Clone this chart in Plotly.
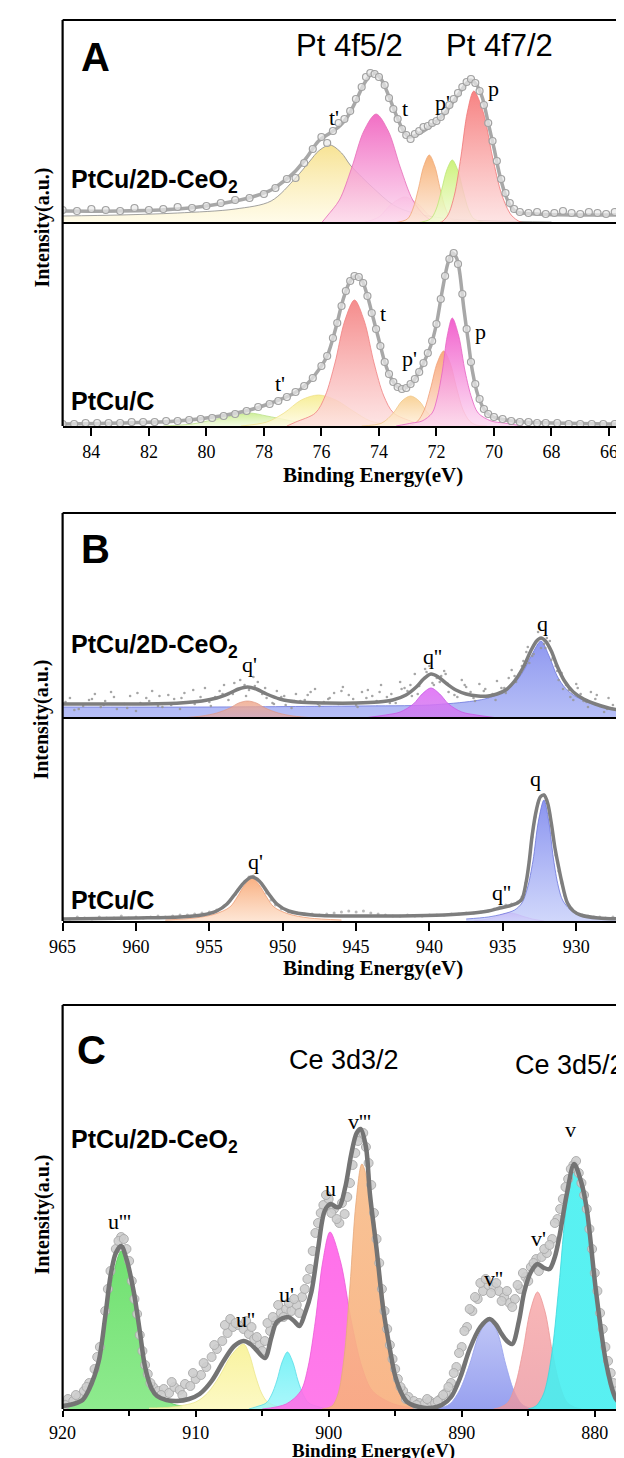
import plotly.graph_objects as go

W, H = 624, 1458
X0 = 42.5  # left frame edge in px


def px(x):
    return x / W


def py(y):
    return 1 - y / H


# ======================= DATA =======================
# ---------- Panel A : Pt 4f ----------
a_ticks = [84, 82, 80, 78, 76, 74, 72, 70, 68, 66]

# top: PtCu/2D-CeO2
a1_env_e = [85, 83, 81, 80, 79, 78.3, 77.75, 77.3, 76.9, 76.5, 76.1, 75.7, 75.4, 75.1, 74.8, 74.5, 74.2, 73.95,
            73.7, 73.4, 73.15, 72.95, 72.7, 72.45, 72.2, 71.95, 71.7, 71.45, 71.2, 70.95, 70.8, 70.6, 70.4, 70.2,
            70.0, 69.8, 69.6, 69.4, 69.2, 68.5, 67, 65.2]
a1_env_h = [12, 12, 14, 17, 22, 27, 33, 42, 52, 66, 82, 90, 96, 106, 122, 140, 150, 145, 130, 108, 92, 86, 88,
            92, 97, 103, 110, 120, 130, 140, 143, 138, 125, 100, 75, 48, 28, 16, 11, 9, 8, 8]
a1_pts_e = [85, 84.5, 84, 83.5, 83, 82.5, 82, 81.5, 81, 80.5, 80, 79.5, 79, 78.5, 78, 77.6, 77.2, 76.9, 76.6,
            76.3, 76.0, 75.8, 75.6, 75.4, 75.2, 75.0, 74.8, 74.6, 74.45, 74.3, 74.15, 74.0, 73.8, 73.65, 73.5,
            73.35, 73.2, 73.05, 72.9, 72.75, 72.6, 72.45, 72.3, 72.15, 72.0, 71.85, 71.7, 71.55, 71.4, 71.25,
            71.1, 70.95, 70.8, 70.65, 70.5, 70.35, 70.2, 70.05, 69.9, 69.75, 69.6, 69.45, 69.3, 69.1, 68.8, 68.5,
            68.2, 67.9, 67.6, 67.3, 67.0, 66.7, 66.4, 66.1, 65.8, 65.5]
a1_pts_h = [13, 12, 14, 13, 12, 15, 13, 14, 16, 15, 17, 20, 23, 25, 29, 35, 44, 45, 60, 74, 86, 80, 92, 100,
            104, 112, 124, 136, 146, 150, 149, 146, 138, 125, 114, 104, 94, 88, 84, 89, 92, 96, 97, 100, 102,
            106, 112, 118, 124, 130, 136, 141, 144, 140, 132, 118, 100, 82, 62, 44, 30, 20, 14, 11, 10, 11, 9,
            10, 12, 10, 9, 11, 10, 9, 11, 10]
a1_tp_e = [85, 83, 81, 79, 77.75, 76.9, 76.4, 76.1, 75.7, 75.3, 75.0, 74.6, 74.2, 73.5, 72.8, 71.5, 70.0, 68.0]
a1_tp_h = [7, 8, 10, 14, 22, 45, 62, 72, 78, 70, 58, 46, 35, 18, 10, 4, 2, 1]
a1_t_e = [76.0, 75.8, 75.375, 74.95, 74.525, 74.1, 73.675, 73.25, 72.825, 72.4, 72.0]
a1_t_h = [0, 7, 23, 55, 92, 109, 92, 55, 23, 7, 0]
a1_t2_e = [74.6, 74.0, 73.6, 73.1, 72.6, 72.2, 71.6]
a1_t2_h = [0, 6, 18, 26, 18, 6, 0]
a1_pp_e = [73.5, 73.01, 72.82, 72.63, 72.44, 72.25, 72.06, 71.87, 71.68, 71.49, 71.0]
a1_pp_h = [0, 4, 14, 34, 57, 68, 57, 34, 14, 4, 0]
a1_g_e = [72.7, 72.21, 72.02, 71.83, 71.64, 71.45, 71.26, 71.07, 70.88, 70.69, 70.2]
a1_g_h = [0, 4, 13, 32, 53, 63, 53, 32, 13, 4, 0]
a1_p_e = [72.1, 71.825, 71.6, 71.375, 71.15, 70.925, 70.7, 70.375, 70.05, 69.725, 69.4, 69.075, 68.7]
a1_p_h = [0, 1, 8, 28, 66, 111, 132, 111, 66, 28, 8, 1, 0]

# bottom: PtCu/C
a2_env_e = [85, 83, 81, 79.5, 78.5, 77.75, 77.0, 76.5, 76.1, 75.8, 75.5, 75.25, 75.0, 74.8, 74.6, 74.4, 74.2,
            74.0, 73.8, 73.6, 73.35, 73.1, 72.8, 72.5, 72.2, 72.0, 71.8, 71.6, 71.45, 71.3, 71.2, 71.05, 70.9,
            70.75, 70.55, 70.3, 70.1, 69.6, 69.0, 68.0, 66.0, 65.2]
a2_env_h = [2, 3, 5, 10, 16, 23, 32, 42, 56, 70, 98, 126, 145, 150, 146, 130, 108, 86, 64, 49, 39, 38, 45, 60,
            80, 102, 135, 163, 173, 168, 155, 118, 86, 55, 30, 15, 10, 6, 4, 3, 2, 2]
a2_pts_e = [85, 84.6, 84.2, 83.8, 83.4, 83.0, 82.6, 82.2, 81.8, 81.4, 81.0, 80.6, 80.2, 79.8, 79.4, 79.0, 78.6,
            78.2, 77.8, 77.5, 77.2, 76.9, 76.6, 76.3, 76.0, 75.8, 75.6, 75.45, 75.3, 75.15, 75.0, 74.85, 74.7,
            74.55, 74.4, 74.25, 74.1, 73.95, 73.8, 73.65, 73.5, 73.35, 73.2, 73.05, 72.9, 72.75, 72.6, 72.45,
            72.3, 72.15, 72.0, 71.85, 71.7, 71.55, 71.4, 71.25, 71.1, 70.95, 70.8, 70.65, 70.5, 70.35, 70.2,
            70.0, 69.7, 69.4, 69.1, 68.8, 68.5, 68.2, 67.8, 67.4, 67.0, 66.6, 66.2, 65.8, 65.4]
a2_pts_h = [2, 2, 3, 3, 3, 3, 4, 4, 4, 5, 5, 6, 7, 8, 10, 12, 15, 19, 22, 25, 29, 34, 40, 48, 60, 70, 88, 103,
            120, 135, 145, 150, 149, 143, 130, 113, 97, 80, 64, 52, 44, 39, 37, 38, 42, 47, 54, 63, 73, 85, 102,
            127, 150, 167, 173, 162, 132, 97, 64, 42, 27, 17, 12, 9, 7, 5, 4, 4, 3, 3, 3, 2, 2, 2, 2, 2, 2]
a2_g_e = [81.5, 80.5, 79.8, 79.1, 78.5, 77.9, 77.2, 76.5, 75.5]
a2_g_h = [0, 2, 6, 10, 13, 10, 6, 2, 0]
a2_y_e = [78.8, 77.9, 77.3, 76.7, 76.1, 75.5, 74.9, 74.3, 73.4]
a2_y_h = [0, 4, 13, 26, 31, 26, 15, 5, 0]
a2_t_e = [77.2, 76.89, 76.21, 75.87, 75.53, 75.19, 74.85, 74.51, 74.17, 73.83, 73.49, 72.81, 72.4]
a2_t_h = [0, 4, 13, 30, 63, 105, 126, 105, 63, 30, 13, 4, 0]
a2_pp_e = [74.6, 73.9, 73.5, 73.2, 72.9, 72.6, 72.3, 71.9, 71.2]
a2_pp_h = [0, 3, 13, 25, 30, 25, 13, 3, 0]
a2_o_e = [73.25, 72.875, 72.65, 72.425, 72.2, 71.975, 71.75, 71.525, 71.3, 71.075, 70.85, 70.625, 70.25]
a2_o_h = [0, 1, 5, 16, 38, 63, 75, 63, 38, 16, 5, 1, 0]
a2_p_e = [73.4, 72.85, 72.5, 72.15, 71.975, 71.8, 71.625, 71.45, 71.225, 71.0, 70.775, 70.55, 70.1, 69.65, 69.0]
a2_p_h = [0, 3, 5, 13, 28, 54, 90, 108, 90, 54, 28, 13, 5, 3, 0]

# ---------- Panel B : Cu 2p ----------
b_ticks = [965, 960, 955, 950, 945, 940, 935, 930]

b1_env_e = [965, 960, 957, 955.5, 954.5, 953.6, 953.0, 952.4, 951.8, 951.1, 950.2, 949.0, 947, 945, 943.5,
            942.5, 941.6, 940.9, 940.4, 939.9, 939.4, 938.8, 938.2, 937.5, 936.7, 936.0, 935.4, 934.8, 934.2,
            933.6, 933.1, 932.7, 932.4, 932.1, 931.7, 931.3, 930.8, 930.2, 929.5, 928.7, 927.8, 926.2]
b1_env_h = [14, 14, 15, 17, 20, 25, 29, 31, 29, 24, 19, 16, 15, 15, 16, 18, 23, 31, 39, 44, 41, 34, 28, 24, 22,
            22, 24, 28, 37, 51, 67, 77, 80, 77, 67, 52, 37, 26, 19, 14, 10, 6]
b1_pts_e = [964.5, 963.6, 962.8, 962.1, 961.3, 960.4, 959.7, 958.9, 958.2, 957.4, 956.7, 956.0, 955.3, 954.6,
            954.0, 953.4, 952.9, 952.3, 951.7, 951.1, 950.4, 949.8, 949.1, 948.5, 947.8, 947.2, 946.5, 945.9,
            945.2, 944.6, 943.9, 943.3, 942.6, 942.0, 941.5, 941.0, 940.5, 940.0, 939.5, 939.0, 938.4, 937.8,
            937.2, 936.6, 936.0, 935.4, 934.9, 934.4, 933.9, 933.4, 933.0, 932.6, 932.2, 931.8, 931.4, 931.0,
            930.5, 930.0, 929.5, 929.0, 928.4, 927.8, 927.2, 926.6,
            964.2, 963.2, 962.4, 961.7, 960.8, 960.0, 959.3, 958.5, 957.8, 957.0, 956.3, 955.6, 954.9, 954.3,
            953.7, 953.1, 952.6, 952.0, 951.4, 950.7, 950.1, 949.4, 948.8, 948.1, 947.5, 946.8, 946.2, 945.5,
            944.9, 944.2, 943.6, 942.9, 942.3, 941.7, 941.2, 940.7, 940.2, 939.7, 939.2, 938.7, 938.1, 937.5,
            936.9, 936.3, 935.7, 935.1, 934.6, 934.1, 933.6, 933.2, 932.8, 932.4, 932.0, 931.6, 931.2, 930.7,
            930.2, 929.7, 929.2, 928.7, 928.1, 927.5, 926.9,
            964.8, 963.9, 963.0, 962.2, 961.5, 960.6, 959.9, 959.1, 958.4, 957.6, 956.9, 956.1, 955.0, 954.1,
            953.3, 952.5, 951.9, 951.2, 950.6, 949.9, 949.2, 948.3, 947.6, 946.9, 946.0, 945.0, 944.3, 943.4,
            942.7, 941.9, 941.3, 940.8, 940.3, 939.8, 939.3, 938.9, 938.3, 937.6, 937.0, 936.2, 935.5, 934.8,
            934.2, 933.7, 933.3, 932.9, 932.5, 932.1, 931.7, 931.3, 930.9, 930.4, 929.9, 929.3, 928.6, 927.9,
            927.0, 926.4]
b1_pts_h = [20, 12, 24, 17, 9, 22, 15, 27, 11, 19, 25, 14, 30, 21, 33, 24, 38, 28, 36, 20, 27, 13, 24, 18, 29,
            16, 25, 31, 19, 26, 22, 33, 24, 36, 27, 44, 38, 52, 40, 47, 30, 38, 26, 34, 21, 37, 30, 48, 44, 66,
            62, 86, 74, 77, 52, 45, 28, 34, 17, 26, 12, 20, 8, 15,
            8, 18, 11, 26, 14, 7, 20, 12, 23, 9, 16, 21, 12, 27, 18, 29, 33, 41, 24, 15, 21, 10, 17, 26, 12, 20,
            14, 23, 11, 28, 17, 21, 15, 30, 22, 32, 46, 33, 42, 26, 21, 31, 17, 27, 24, 30, 40, 36, 57, 55, 74,
            70, 80, 60, 38, 33, 18, 24, 11, 19, 6, 13, 4,
            16, 9, 19, 13, 21, 10, 25, 17, 22, 13, 20, 28, 16, 24, 35, 22, 32, 30, 14, 22, 17, 23, 14, 19, 27,
            13, 20, 26, 15, 29, 33, 24, 49, 35, 36, 44, 23, 33, 20, 29, 18, 25, 42, 52, 71, 64, 90, 70, 58, 47,
            29, 21, 30, 16, 23, 9, 11, 7]
b1_blue_e = [965, 955, 945, 940, 937, 936, 935, 934.2, 933.6, 933.0, 932.4, 931.85, 931.3, 930.75, 930.2, 929.1,
             928.0, 926.2]
b1_blue_h = [11, 11, 12, 13, 17, 20, 26, 35, 47, 64, 77, 62, 42, 30, 23, 15, 11, 7]
b1_o_e = [957, 955.5, 954.5, 953.6, 953.0, 952.4, 951.8, 951.2, 950.3, 949.3, 947.8]
b1_o_h = [0, 2, 5, 10, 15, 17, 15, 10, 5, 2, 0]
b1_m_e = [944.5, 943, 942, 941.1, 940.5, 939.9, 939.3, 938.7, 937.8, 936.8, 935.3]
b1_m_h = [0, 3, 6, 14, 24, 30, 24, 14, 6, 3, 0]

b2_env_e = [965, 960, 957, 955.5, 954.5, 953.8, 953.2, 952.6, 952.1, 951.6, 951.0, 950.4, 949.6, 948, 945, 942,
            939, 937, 936, 935.2, 934.6, 934.0, 933.7, 933.4, 933.2, 933.0, 932.7, 932.45, 932.2, 931.95, 931.7,
            931.45, 931.2, 931.0, 930.6, 930.2, 929.7, 928.5, 926.2]
b2_env_h = [2, 3, 4, 6, 10, 17, 28, 39, 44, 40, 28, 17, 10, 6, 5, 5, 6, 8, 10, 13, 15, 18, 22, 40, 60, 86, 112,
            124, 126, 118, 98, 73, 54, 40, 18, 10, 6, 3, 2]
b2_pts_e = [965, 964.5, 964, 963.5, 963, 962.5, 962, 961.5, 961, 960.5, 960, 959.5, 959, 958.5, 958, 957.5, 957,
            956.5, 956, 955.5, 955, 954.5, 954, 953.6, 953.2, 952.9, 952.6, 952.3, 952.0, 951.7, 951.4, 951.1,
            950.8, 950.5, 950.1, 949.6, 949, 948.5, 948, 947.5, 947, 946.5, 946, 945.5, 945, 944.5, 944, 943.5,
            943, 942.5, 942, 941.5, 941, 940.5, 940, 939.5, 939, 938.5, 938, 937.5, 937, 936.5, 936, 935.6,
            935.2, 934.8, 934.4, 934.0, 933.7, 933.45, 933.2, 933.0, 932.8, 932.6, 932.4, 932.2, 932.0, 931.8,
            931.6, 931.4, 931.2, 931.0, 930.8, 930.6, 930.3, 930.0, 929.6, 929.2, 928.8, 928.4, 928, 927.5, 927,
            926.5]
b2_pts_h = [3, 2, 4, 3, 2, 4, 3, 3, 5, 3, 4, 3, 4, 5, 4, 5, 6, 6, 7, 8, 9, 11, 15, 20, 27, 34, 39, 44, 45, 42,
            36, 28, 21, 16, 12, 9, 8, 7, 7, 6, 7, 8, 9, 10, 9, 10, 8, 7, 6, 5, 5, 6, 5, 5, 6, 6, 6, 7, 7, 8, 8, 9,
            10, 12, 14, 16, 17, 19, 24, 38, 60, 84, 104, 118, 125, 126, 121, 106, 86, 66, 50, 38, 26, 18, 12, 8,
            6, 5, 4, 4, 3, 4, 3, 3]
b2_o_e = [958, 956, 954.6, 953.6, 953.1, 952.6, 952.1, 951.6, 951.1, 950.6, 949.6, 948.2, 946]
b2_o_h = [1, 3, 7, 14, 24, 36, 43, 36, 24, 14, 7, 3, 1]
b2_m_e = [937, 936, 935.3, 934.9, 934.5, 934.1, 933.7, 933.0, 932.2]
b2_m_h = [0, 2, 5, 7, 8, 7, 5, 2, 0]
b2_blue_e = [937.5, 936, 935, 934.2, 933.7, 933.325, 932.95, 932.575, 932.2, 931.875, 931.55, 931.225, 930.9,
             930.2, 929, 926.2]
b2_blue_h = [2, 4, 7, 11, 18, 33, 60, 100, 121, 100, 62, 35, 20, 9, 4, 1]

# ---------- Panel C : Ce 3d ----------
c_ticks = [920, 910, 900, 890, 880]
c_minor = [915, 905, 895, 885]

c_env_e = [920, 919.2, 918.5, 918.0, 917.3, 916.8, 916.4, 916.0, 915.6, 915.2, 914.65, 914.2, 913.8, 913.3,
           912.9, 912.2, 911.4, 910.5, 909.7, 908.8, 907.9, 907.1, 906.4, 905.9, 905.5, 904.8, 904.3, 903.9,
           903.05, 902.6, 902.2, 901.8, 901.3, 900.8, 900.3, 899.85, 899.45, 899.2, 898.75, 898.3, 897.9, 897.6,
           897.2, 896.9, 896.4, 895.9, 895.4, 895.0, 894.5, 894.1, 893.2, 892.3, 891.5, 890.8, 890.1, 889.4,
           888.6, 887.9, 887.4, 887.05, 886.6, 886.2, 885.7, 885.3, 884.8, 884.3, 883.8, 883.4, 883.0, 882.65,
           882.1, 881.55, 881.0, 880.6, 879.9, 879.1, 878.4, 877.7, 877.2]
c_env_h = [3, 5, 9, 20, 47, 92, 133, 156, 163, 150, 117, 78, 42, 20, 13, 9, 8, 10, 15, 28, 48, 63, 68, 65, 60,
           51, 72, 87, 92, 88, 83, 95, 117, 160, 198, 205, 202, 202, 222, 255, 276, 280, 262, 215, 160, 100, 60,
           33, 15, 7, 2, 1, 4, 12, 32, 60, 82, 90, 84, 76, 68, 65, 88, 117, 137, 145, 141, 140, 152, 173, 215,
           245, 226, 200, 117, 43, 10, 2, 1]
c_pts_e = [920.0, 919.6, 919.2, 918.8, 918.4, 918.0, 917.6, 917.2, 916.8, 916.4, 916.0, 915.6, 915.2, 914.8,
           914.4, 914.0, 913.6, 913.2, 912.8, 912.4, 912.0, 911.6, 911.2, 910.8, 910.4, 910.0, 909.6, 909.2,
           908.8, 908.4, 908.0, 907.6, 907.2, 906.8, 906.4, 906.0, 905.6, 905.2, 904.8, 904.4, 904.0, 903.6,
           903.2, 902.8, 902.4, 902.0, 901.6, 901.2, 900.8, 900.4, 900.0, 899.6, 899.2, 898.8, 898.4, 898.0,
           897.6, 897.2, 896.8, 896.4, 896.0, 895.6, 895.2, 894.8, 894.4, 894.0, 893.6, 893.2, 892.8, 892.4,
           892.0, 891.6, 891.2, 890.8, 890.4, 890.0, 889.6, 889.2, 888.8, 888.4, 888.0, 887.6, 887.2, 886.8,
           886.4, 886.0, 885.6, 885.2, 884.8, 884.4, 884.0, 883.6, 883.2, 882.8, 882.4, 882.0, 881.6, 881.2,
           880.8, 880.4, 880.0, 879.6, 879.2, 878.8, 878.4, 878.0, 877.6,
           919.8, 919.0, 918.2, 917.4, 916.6, 915.8, 915.4, 915.0, 914.6, 914.2, 913.8, 913.4, 912.6, 911.8,
           911.0, 910.2, 909.4, 908.6, 907.8, 907.4, 907.0, 906.2, 905.8, 905.4, 905.0, 904.6, 904.2, 903.8,
           903.4, 903.0, 902.6, 902.2, 901.8, 901.4, 901.0, 900.6, 900.2, 899.8, 899.4, 899.0, 898.6, 898.2,
           897.8, 897.4, 897.0, 896.6, 896.2, 895.8, 895.4, 895.0, 894.6, 894.2, 893.4, 892.6, 891.8, 891.4,
           891.0, 890.6, 890.2, 889.8, 889.4, 889.0, 888.6, 888.2, 887.8, 887.4, 887.0, 886.6, 886.2, 885.8,
           885.4, 885.0, 884.6, 884.2, 883.8, 883.4, 883.0, 882.6, 882.2, 881.8, 881.4, 881.0, 880.6, 880.2,
           879.8, 879.4, 879.0, 878.6, 878.2, 877.8, 877.4]
c_pts_h = [6, 10, 8, 12, 18, 26, 40, 62, 98, 138, 160, 172, 160, 128, 95, 58, 35, 22, 18, 20, 16, 22, 19, 25,
           23, 30, 34, 42, 52, 60, 68, 76, 82, 84, 80, 75, 70, 64, 68, 78, 88, 96, 100, 98, 104, 112, 130, 158,
           186, 204, 210, 200, 186, 195, 226, 256, 272, 262, 224, 170, 120, 80, 50, 30, 18, 12, 8, 6, 5, 8, 6,
           10, 16, 26, 42, 62, 82, 98, 110, 118, 124, 122, 118, 112, 106, 110, 120, 132, 142, 150, 152, 156,
           170, 190, 210, 230, 244, 236, 214, 180, 136, 96, 62, 36, 18, 10, 6,
           4, 14, 22, 52, 120, 168, 170, 148, 110, 74, 44, 26, 14, 27, 14, 36, 46, 64, 84, 90, 86, 88, 82, 72,
           58, 86, 92, 104, 92, 106, 110, 96, 120, 140, 176, 196, 214, 196, 190, 206, 212, 244, 268, 276, 246,
           196, 146, 98, 64, 40, 22, 10, 4, 10, 8, 14, 22, 36, 56, 78, 100, 112, 126, 130, 116, 126, 108, 118,
           102, 124, 136, 128, 146, 138, 160, 164, 186, 200, 222, 240, 248, 226, 200, 160, 118, 80, 48, 26, 14,
           8, 4]
c_g_e = [920, 919.5, 918.2, 917.55, 916.9, 916.25, 915.6, 914.95, 914.3, 913.65, 913.0, 911.7, 911]
c_g_h = [3, 5, 16, 38, 79, 131, 158, 131, 79, 38, 16, 5, 3]
c_y_e = [913.5, 911.8, 910.0, 909.1, 908.2, 907.3, 906.4, 905.95, 905.5, 905.05, 904.6, 903.7, 902.8]
c_y_h = [1, 2, 7, 16, 33, 54, 65, 54, 33, 16, 7, 2, 0]
c_c1_e = [906, 905.5, 904.7, 904.3, 903.9, 903.5, 903.1, 902.7, 902.3, 901.9, 901.5, 900.7, 900]
c_c1_h = [0, 2, 6, 14, 28, 47, 57, 47, 28, 14, 6, 2, 0]
c_m_e = [905, 903.2, 902.1, 901.55, 901.0, 900.45, 899.9, 899.1, 898.3, 897.5, 896.7, 895.1, 893.5, 892.5]
c_m_h = [0, 5, 18, 42, 88, 147, 177, 147, 88, 42, 18, 5, 1, 0]
c_o_e = [900.5, 899.75, 899.3, 898.85, 898.4, 897.95, 897.5, 896.75, 896.0, 895.25, 894.5, 893.75, 893.0]
c_o_h = [0, 3, 15, 51, 123, 206, 245, 206, 123, 51, 15, 3, 0]
c_b_e = [892.5, 891.65, 890.9, 890.15, 889.4, 888.65, 887.9, 887.3, 886.7, 886.1, 885.5, 884.9, 884.0]
c_b_h = [0, 1, 5, 19, 45, 76, 90, 76, 45, 19, 5, 1, 0]
c_pk_e = [887.6, 887.05, 886.5, 885.95, 885.4, 884.85, 884.3, 883.75, 883.2, 882.65, 882.1, 881.55, 881.0]
c_pk_h = [0, 2, 7, 25, 58, 98, 117, 98, 58, 25, 7, 2, 0]
c_c2_e = [885.0, 884.425, 883.85, 883.275, 882.7, 882.125, 881.55, 880.75, 879.95, 879.15, 878.35, 877.55, 877.0]
c_c2_h = [0, 3, 15, 51, 122, 204, 243, 204, 122, 51, 15, 3, 1]

# ======================= FIGURE =======================
fig = go.Figure()


def comp(e, h, xa, ya, top, bot, line):
    fig.add_trace(go.Scatter(
        x=e, y=h, xaxis=xa, yaxis=ya, mode='lines',
        line=dict(color=line, width=0.9, shape='spline', smoothing=0.9),
        fill='tozeroy', fillcolor=top,
        fillgradient=dict(type='vertical', colorscale=[[0, bot], [1, top]], start=0, stop=max(h)),
        hoverinfo='skip', showlegend=False))


def envelope(e, h, xa, ya, color, width):
    fig.add_trace(go.Scatter(
        x=e, y=h, xaxis=xa, yaxis=ya, mode='lines',
        line=dict(color=color, width=width, shape='spline', smoothing=0.9),
        hoverinfo='skip', showlegend=False))


def points(e, h, xa, ya, size, fill, outline, lw):
    fig.add_trace(go.Scatter(
        x=e, y=h, xaxis=xa, yaxis=ya, mode='markers',
        marker=dict(size=size, color=fill, line=dict(color=outline, width=lw)),
        hoverinfo='skip', showlegend=False))


# Panel A top
comp(a1_tp_e, a1_tp_h, 'x', 'y', 'rgba(246,222,130,0.85)', 'rgba(255,250,225,0.7)', 'rgba(140,140,140,0.9)')
comp(a1_t2_e, a1_t2_h, 'x', 'y', 'rgba(250,200,220,0.7)', 'rgba(255,235,245,0.5)', 'rgba(245,190,215,0.8)')
comp(a1_t_e, a1_t_h, 'x', 'y', 'rgba(240,95,190,0.9)', 'rgba(252,215,238,0.8)', 'rgba(230,110,185,0.9)')
comp(a1_pp_e, a1_pp_h, 'x', 'y', 'rgba(246,172,110,0.9)', 'rgba(253,232,215,0.8)', 'rgba(240,170,120,0.9)')
comp(a1_g_e, a1_g_h, 'x', 'y', 'rgba(200,240,110,0.9)', 'rgba(242,252,215,0.8)', 'rgba(190,230,120,0.9)')
comp(a1_p_e, a1_p_h, 'x', 'y', 'rgba(246,120,120,0.92)', 'rgba(253,222,222,0.8)', 'rgba(240,120,120,0.9)')
envelope(a1_env_e, a1_env_h, 'x', 'y', '#a8a8a8', 3.5)
points(a1_pts_e, a1_pts_h, 'x', 'y', 7, 'rgba(232,232,232,0.7)', '#a2a2a2', 1.2)

# Panel A bottom
comp(a2_g_e, a2_g_h, 'x', 'y2', 'rgba(200,236,140,0.9)', 'rgba(240,250,220,0.8)', 'rgba(190,225,140,0.9)')
comp(a2_y_e, a2_y_h, 'x', 'y2', 'rgba(246,236,140,0.9)', 'rgba(255,250,225,0.8)', 'rgba(240,225,140,0.9)')
comp(a2_t_e, a2_t_h, 'x', 'y2', 'rgba(244,130,130,0.92)', 'rgba(253,222,222,0.8)', 'rgba(240,130,130,0.9)')
comp(a2_pp_e, a2_pp_h, 'x', 'y2', 'rgba(248,205,140,0.9)', 'rgba(255,240,220,0.8)', 'rgba(240,200,140,0.9)')
comp(a2_o_e, a2_o_h, 'x', 'y2', 'rgba(248,160,110,0.9)', 'rgba(253,228,215,0.8)', 'rgba(240,160,120,0.9)')
comp(a2_p_e, a2_p_h, 'x', 'y2', 'rgba(240,80,200,0.9)', 'rgba(252,215,240,0.8)', 'rgba(230,100,195,0.9)')
envelope(a2_env_e, a2_env_h, 'x', 'y2', '#a8a8a8', 3.5)
points(a2_pts_e, a2_pts_h, 'x', 'y2', 7, 'rgba(232,232,232,0.7)', '#a2a2a2', 1.2)

# Panel B top
comp(b1_blue_e, b1_blue_h, 'x2', 'y3', 'rgba(130,140,238,0.9)', 'rgba(170,180,245,0.85)', 'rgba(110,120,220,0.9)')
comp(b1_o_e, b1_o_h, 'x2', 'y3', 'rgba(240,170,140,0.85)', 'rgba(230,160,150,0.6)', 'rgba(225,150,130,0.8)')
comp(b1_m_e, b1_m_h, 'x2', 'y3', 'rgba(225,110,245,0.9)', 'rgba(205,120,240,0.8)', 'rgba(200,90,230,0.9)')
points(b1_pts_e, b1_pts_h, 'x2', 'y3', 2.6, 'rgba(150,150,150,0.85)', 'rgba(150,150,150,0.85)', 0)
envelope(b1_env_e, b1_env_h, 'x2', 'y3', '#7e7e7e', 3.5)

# Panel B bottom
comp(b2_o_e, b2_o_h, 'x2', 'y4', 'rgba(248,170,120,0.92)', 'rgba(253,225,205,0.85)', 'rgba(240,160,120,0.9)')
comp(b2_m_e, b2_m_h, 'x2', 'y4', 'rgba(230,110,235,0.9)', 'rgba(248,210,248,0.85)', 'rgba(220,100,225,0.9)')
comp(b2_blue_e, b2_blue_h, 'x2', 'y4', 'rgba(128,138,238,0.92)', 'rgba(200,208,250,0.85)', 'rgba(110,120,220,0.9)')
points(b2_pts_e, b2_pts_h, 'x2', 'y4', 3, 'rgba(175,175,175,0.85)', 'rgba(175,175,175,0.85)', 0)
envelope(b2_env_e, b2_env_h, 'x2', 'y4', '#7e7e7e', 3.5)

# Panel C
comp(c_g_e, c_g_h, 'x3', 'y5', 'rgba(100,222,100,0.92)', 'rgba(130,232,130,0.9)', 'rgba(90,200,90,0.9)')
comp(c_y_e, c_y_h, 'x3', 'y5', 'rgba(248,242,150,0.92)', 'rgba(252,248,190,0.9)', 'rgba(235,230,140,0.9)')
comp(c_c1_e, c_c1_h, 'x3', 'y5', 'rgba(100,240,245,0.85)', 'rgba(150,245,250,0.8)', 'rgba(90,220,230,0.9)')
comp(c_m_e, c_m_h, 'x3', 'y5', 'rgba(255,100,232,0.92)', 'rgba(255,110,232,0.9)', 'rgba(235,90,215,0.9)')
comp(c_o_e, c_o_h, 'x3', 'y5', 'rgba(248,190,140,0.92)', 'rgba(248,175,125,0.9)', 'rgba(230,170,125,0.9)')
comp(c_b_e, c_b_h, 'x3', 'y5', 'rgba(185,192,245,0.9)', 'rgba(140,150,238,0.9)', 'rgba(150,160,235,0.9)')
comp(c_pk_e, c_pk_h, 'x3', 'y5', 'rgba(248,170,170,0.85)', 'rgba(235,150,160,0.8)', 'rgba(235,150,150,0.9)')
comp(c_c2_e, c_c2_h, 'x3', 'y5', 'rgba(70,240,240,0.9)', 'rgba(70,238,240,0.9)', 'rgba(60,215,220,0.9)')
points(c_pts_e, c_pts_h, 'x3', 'y5', 9, 'rgba(205,205,205,0.9)', 'rgba(170,170,170,0.9)', 1)
envelope(c_env_e, c_env_h, 'x3', 'y5', '#747474', 4.5)

# ======================= AXES =======================
serif = 'Liberation Serif'
sans = 'Liberation Sans'
xcommon = dict(showgrid=False, zeroline=False, showline=True, linecolor='black', linewidth=2.2,
               ticks='outside', tickwidth=2, tickcolor='black',
               tickfont=dict(family=serif, size=18, color='black'), domain=[px(X0), 1])
ycommon = dict(visible=False, showgrid=False, zeroline=False, fixedrange=True)

fig.update_layout(
    width=W, height=H, margin=dict(l=0, r=0, t=0, b=0),
    paper_bgcolor='white', plot_bgcolor='rgba(0,0,0,0)', showlegend=False,
    xaxis=dict(range=[85, 65.2], anchor='y2', tickmode='array', tickvals=a_ticks, ticklen=8, **xcommon),
    yaxis=dict(domain=[py(215), py(12)], range=[0, 203], anchor='x', **ycommon),
    yaxis2=dict(domain=[py(418), py(215)], range=[0, 203], anchor='x', **ycommon),
    xaxis2=dict(range=[965, 926.2], anchor='y4', tickmode='array', tickvals=b_ticks, ticklen=8, **xcommon),
    yaxis3=dict(domain=[py(710), py(505)], range=[0, 205], anchor='x2', **ycommon),
    yaxis4=dict(domain=[py(913), py(710)], range=[0, 203], anchor='x2', **ycommon),
    xaxis3=dict(range=[920, 877.2], anchor='y5', tickmode='array', tickvals=c_ticks, ticklen=6,
                minor=dict(tickmode='array', tickvals=c_minor, ticks='outside', ticklen=5, tickwidth=2,
                           tickcolor='black'), **xcommon),
    yaxis5=dict(domain=[py(1401), py(997)], range=[0, 404], anchor='x3', **ycommon),
)


# frame lines
def hline(y, x0=X0, x1=W):
    fig.add_shape(type='line', xref='paper', yref='paper', x0=px(x0), x1=px(x1), y0=py(y), y1=py(y),
                  line=dict(color='black', width=2.2))


def vline(x, y0, y1):
    fig.add_shape(type='line', xref='paper', yref='paper', x0=px(x), x1=px(x), y0=py(y0), y1=py(y1),
                  line=dict(color='black', width=2.2))


hline(12); hline(215); vline(X0, 12, 418)
hline(505); hline(710); vline(X0, 505, 913)
hline(997); vline(X0, 997, 1401)


# ======================= TEXT =======================
def txt(s, x, y, size, family, anchor='center', angle=0, color='black'):
    fig.add_annotation(text=s, x=px(x), y=py(y), xref='paper', yref='paper', showarrow=False,
                       xanchor=anchor, yanchor='middle', textangle=angle, borderpad=0,
                       font=dict(family=family, size=size, color=color))


sample1 = 'PtCu/2D-CeO<sub>2</sub>'
sample2 = 'PtCu/C'
xtitle = '<b>Binding Energy(eV)</b>'
ytitle = '<b>Intensity(a.u.)</b>'

# A
txt('<b>A</b>', 76, 49, 40, sans)
txt('Pt 4f5/2', 335, 38, 31, sans)
txt('Pt 4f7/2', 489, 38, 31, sans)
txt('<b>' + sample1 + '</b>', 50, 173, 25, sans, anchor='left')
txt('<b>' + sample2 + '</b>', 50, 393, 25, sans, anchor='left')
for s, x, y in [("t'", 320, 110), ("t", 392, 100), ("p'", 430, 95), ("p", 483, 80),
                ("t'", 265, 375), ("t", 370, 305), ("p'", 397, 351), ("p", 469, 323)]:
    txt(s, x, y, 22, serif)
txt(xtitle, 360, 467, 21, serif)
txt(ytitle, 21, 220, 20, serif, angle=-90)

# B
txt('<b>B</b>', 76, 541, 40, sans)
txt('<b>' + sample1 + '</b>', 50, 638, 25, sans, anchor='left')
txt('<b>' + sample2 + '</b>', 50, 892, 25, sans, anchor='left')
for s, x, y in [("q'", 233, 656), ("q''", 420, 648), ("q", 533, 615),
                ("q'", 239, 853), ("q''", 491, 885), ("q", 525, 770)]:
    txt(s, x, y, 22, serif)
txt(xtitle, 360, 960, 21, serif)
txt(ytitle, 21, 712, 20, serif, angle=-90)

# C
txt('<b>C</b>', 72, 1042, 40, sans)
txt('Ce 3d3/2', 330, 1052, 27, sans)
txt('Ce 3d5/2', 561, 1057, 27, sans)
txt('<b>' + sample1 + '</b>', 50, 1133, 25, sans, anchor='left')
for s, x, y in [("v'''", 346, 1113), ("v", 561, 1121), ("u", 316, 1180), ("u'''", 101, 1213),
                ("u''", 229, 1311), ("u'", 271, 1286), ("v''", 483, 1270), ("v'", 529, 1230)]:
    txt(s, x, y, 22, serif)
txt(xtitle, 360, 1443, 19, serif)
txt(ytitle, 21, 1207, 20, serif, angle=-90)

fig.write_html('out.html')
